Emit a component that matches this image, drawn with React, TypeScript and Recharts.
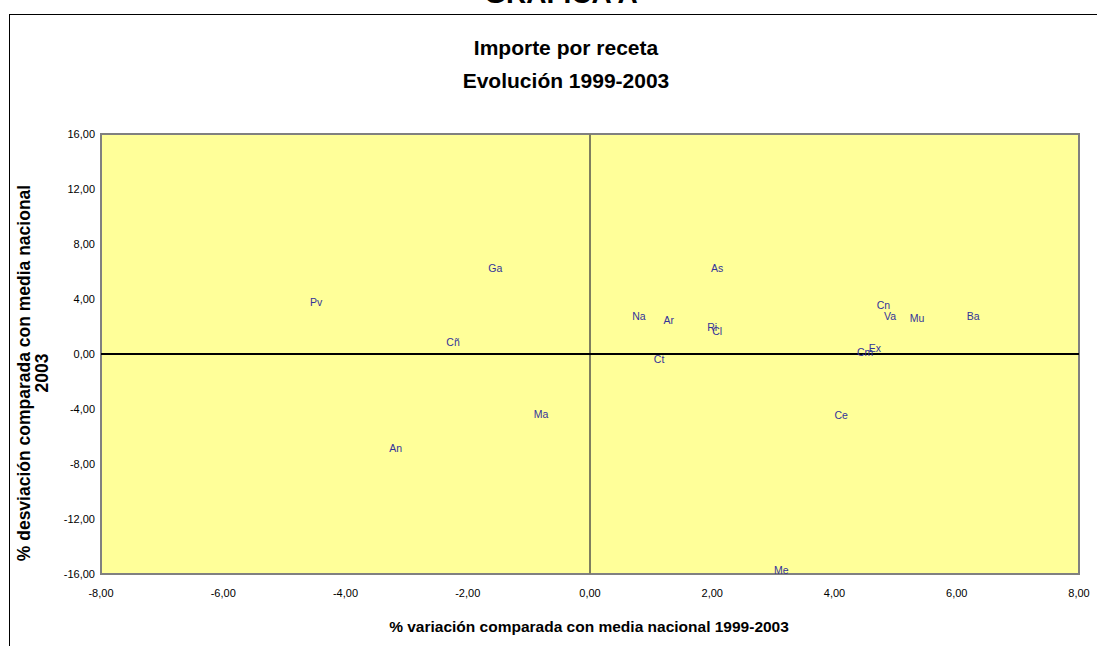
import { ScatterChart, Scatter, XAxis, YAxis, ReferenceArea, ReferenceLine } from 'recharts';

// province codes and their coordinates (x: % variación 1999-2003, y: % desviación 2003)
const codes = ['Pv', 'Ga', 'Cñ', 'As', 'Na', 'Ar', 'Ri', 'Cl', 'Ct', 'Cn', 'Va', 'Mu', 'Ba', 'Ex', 'Cm', 'Ma', 'An', 'Ce', 'Me'];
const variacion = [-4.48, -1.55, -2.24, 2.08, 0.8, 1.29, 2.0, 2.08, 1.13, 4.8, 4.91, 5.35, 6.27, 4.66, 4.5, -0.8, -3.18, 4.11, 3.13];
const desviacion = [3.75, 6.29, 0.84, 6.29, 2.8, 2.44, 1.93, 1.64, -0.33, 3.53, 2.73, 2.65, 2.8, 0.47, 0.11, -4.33, -6.87, -4.47, -15.7];

const xTicks = [-8, -6, -4, -2, 0, 2, 4, 6, 8];
const yTicks = [-16, -12, -8, -4, 0, 4, 8, 12, 16];

const points = codes.map((code, i) => ({ code, x: variacion[i], y: desviacion[i] }));

const fmt = (v: number) => v.toFixed(2).replace('.', ',');

const font = 'Arial, "Liberation Sans", sans-serif';

function LabelShape(props: any) {
    const { cx, cy, payload } = props;
    return (
        <text
            x={cx}
            y={cy}
            textAnchor="middle"
            dominantBaseline="central"
            fontSize={10.5}
            fontFamily={font}
            fill="#333399"
        >
            {payload.code}
        </text>
    );
}

export default function App() {
    return (
        <div style={{ position: 'absolute', left: 0, top: 0, width: 1097, height: 646, overflow: 'hidden', background: '#fff', fontFamily: font }}>
            <div style={{ position: 'absolute', left: 0, width: 1122, top: -22, textAlign: 'center', fontSize: 28, fontWeight: 'bold' }}>
                GRÁFICA A
            </div>
            <div style={{ position: 'absolute', left: 9, top: 14, width: 1120, height: 700, border: '1px solid #000' }} />
            <ScatterChart width={1097} height={646} margin={{ top: 134, right: 18, bottom: 42, left: 41 }}>
                <XAxis
                    type="number"
                    dataKey="x"
                    domain={[-8, 8]}
                    ticks={xTicks}
                    tickFormatter={fmt}
                    axisLine={false}
                    tickLine={false}
                    tickMargin={9}
                    height={30}
                    tick={{ fontSize: 11, fill: '#000', fontFamily: font }}
                />
                <YAxis
                    type="number"
                    dataKey="y"
                    domain={[-16, 16]}
                    ticks={yTicks}
                    tickFormatter={fmt}
                    axisLine={false}
                    tickLine={false}
                    tickMargin={0}
                    width={60}
                    tick={{ fontSize: 11, fill: '#000', fontFamily: font }}
                />
                <ReferenceArea x1={-8} x2={8} y1={-16} y2={16} fill="#FFFF99" fillOpacity={1} stroke="#808080" strokeWidth={2} />
                <ReferenceLine x={0} stroke="#7f7f5f" strokeWidth={2} />
                <ReferenceLine y={0} stroke="#000" strokeWidth={2} />
                <Scatter data={points} shape={LabelShape} isAnimationActive={false} />
            </ScatterChart>
            <div style={{ position: 'absolute', left: 0, width: 1132, top: 31, textAlign: 'center', fontSize: 21, fontWeight: 'bold', lineHeight: '33px' }}>
                Importe por receta
                <br />
                Evolución 1999-2003
            </div>
            <div style={{ position: 'absolute', left: 0, width: 1178, top: 618, textAlign: 'center', fontSize: 15.5, fontWeight: 'bold' }}>
                % variación comparada con media nacional 1999-2003
            </div>
            <div
                style={{
                    position: 'absolute',
                    left: 33,
                    top: 373,
                    width: 460,
                    transform: 'translate(-50%, -50%) rotate(-90deg)',
                    textAlign: 'center',
                    fontSize: 17.5,
                    fontWeight: 'bold',
                    lineHeight: '18px',
                }}
            >
                % desviación comparada con media nacional
                <br />
                2003
            </div>
        </div>
    );
}
